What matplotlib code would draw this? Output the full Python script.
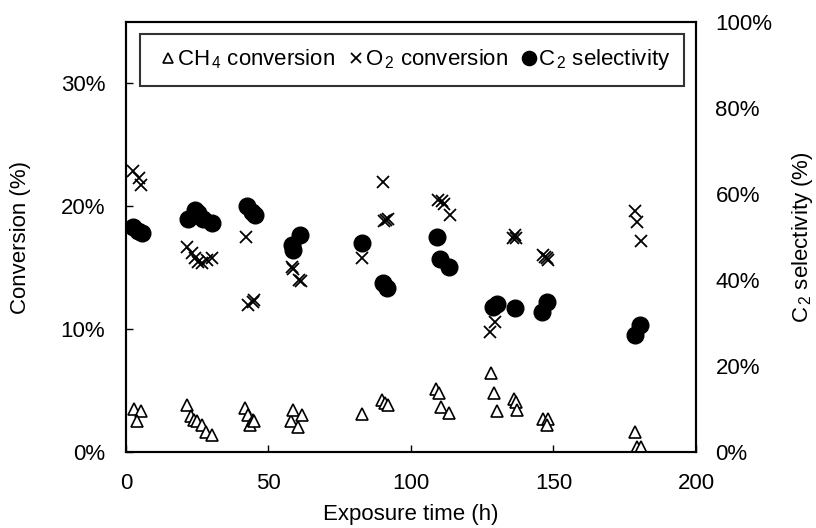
import matplotlib
matplotlib.use('Agg')
import matplotlib.pyplot as plt
from matplotlib.ticker import FuncFormatter

plt.rcParams['font.family'] = ['Liberation Sans', 'DejaVu Sans']
plt.rcParams['mathtext.fontset'] = 'custom'
plt.rcParams['mathtext.rm'] = 'Liberation Sans'
plt.rcParams['mathtext.it'] = 'Liberation Sans:italic'

# CH4 conversion (%)
ch4_t = [2.8, 5.1, 4.0,
         21.5, 22.7, 23.9, 25.0, 26.6, 27.9, 30.1,
         41.8, 42.9, 43.5, 44.5, 45.0,
         57.8, 58.7, 60.5, 61.6,
         82.7, 89.7, 90.9, 92.0,
         108.8, 109.9, 110.4, 113.4,
         128.1, 129.2, 130.1,
         136.3, 136.7, 137.3,
         146.4, 148.2, 147.6,
         178.6, 179.2, 180.6]
ch4_conv = [3.5, 3.3, 2.5,
            3.8, 2.9, 2.6, 2.5, 2.2, 1.65, 1.4,
            3.6, 3.0, 2.2, 2.6, 2.5,
            2.5, 3.4, 2.0, 3.0,
            3.1, 4.2, 4.0, 3.8,
            5.1, 4.8, 3.7, 3.2,
            6.4, 4.8, 3.3,
            4.3, 4.1, 3.4,
            2.7, 2.7, 2.2,
            1.65, 0.43, 0.43]

# O2 conversion (%)
o2_t = [2.6, 4.5, 5.3,
        21.3, 23.1, 24.2, 25.4, 26.6, 28.3, 30.1,
        42.1, 42.9, 44.5, 45.0,
        58.1, 58.7, 60.8, 61.3,
        82.7, 90.1, 90.7, 91.2, 91.8,
        109.6, 110.8, 111.5, 113.7,
        127.9, 129.5,
        135.9, 136.5, 137.0,
        146.4, 147.0, 147.6, 148.2,
        178.6, 179.2, 180.6]
o2_conv = [22.9, 22.3, 21.7,
           16.7, 16.2, 15.8, 15.5, 15.4, 15.6, 15.8,
           17.5, 12.0, 12.2, 12.4,
           15.1, 14.9, 14.0, 13.9,
           15.8, 22.0, 18.8, 18.9, 19.0,
           20.5, 20.4, 20.2, 19.3,
           9.8, 10.6,
           17.4, 17.7, 17.4,
           16.0, 15.9, 15.8, 15.6,
           19.6, 18.7, 17.2]

# C2 selectivity (fraction)
c2_t = [2.6, 4.3, 5.5,
        21.9, 24.2, 25.4, 27.1, 30.1,
        42.3, 44.1, 45.3,
        58.1, 58.7, 61.0,
        82.7, 90.3, 91.7,
        109.0, 110.2, 113.4,
        128.7, 130.3, 136.5,
        145.9, 147.6,
        178.6, 180.4]
c2_sel = [0.523, 0.514, 0.509,
          0.543, 0.563, 0.555, 0.543, 0.532,
          0.571, 0.559, 0.551,
          0.481, 0.470, 0.505,
          0.487, 0.392, 0.381,
          0.499, 0.448, 0.431,
          0.338, 0.344, 0.334,
          0.326, 0.350,
          0.272, 0.295]

fig = plt.figure(figsize=(8.16, 5.28), dpi=100)
ax = fig.add_axes([0.1544, 0.1439, 0.6985, 0.8144])
ax2 = ax.twinx()

l1, = ax.plot(ch4_t, ch4_conv, linestyle='none', marker='^', ms=9, mfc='white',
              mec='black', mew=1.2, label=r'CH$_{\,4}$ conversion')
l2, = ax.plot(o2_t, o2_conv, linestyle='none', marker='x', ms=9, color='black',
              mew=1.3, label=r'O$_{\,2}$ conversion')
l3, = ax2.plot(c2_t, c2_sel, linestyle='none', marker='o', ms=12, color='black',
               label=r'C$_{\,2}$ selectivity')
ax.set_zorder(ax2.get_zorder() + 1)
ax.patch.set_visible(False)

ax.set_xlim(0, 200)
ax.set_ylim(0, 35)
ax2.set_ylim(0, 1)
ax.set_xticks([0, 50, 100, 150, 200])
ax.set_yticks([0, 10, 20, 30])
ax2.set_yticks([0, 0.2, 0.4, 0.6, 0.8, 1.0])
ax.yaxis.set_major_formatter(FuncFormatter(lambda v, p: '%d%%' % v))
ax2.yaxis.set_major_formatter(FuncFormatter(lambda v, p: '%d%%' % round(v * 100)))

ax.tick_params(direction='in', length=5, width=1, labelsize=16)
ax.tick_params(axis='x', pad=15)
ax.tick_params(axis='y', pad=15)
ax2.tick_params(length=0, labelsize=16, pad=14)
for a in (ax, ax2):
    for s in a.spines.values():
        s.set_linewidth(1.5)

ax.set_xlabel('Exposure time (h)', fontsize=16, labelpad=7)
ax.set_ylabel('Conversion (%)', fontsize=16, labelpad=21)
ax2.set_ylabel(r'C$_{\,2}$ selectivity (%)', fontsize=16, labelpad=13)

leg = ax.legend(handles=[l1, l2, l3], loc='upper left', bbox_to_anchor=(0.025, 0.972),
                ncol=3, fontsize=16, markerscale=0.85, frameon=True, fancybox=False,
                edgecolor='black', handlelength=1.3, handletextpad=-0.25,
                columnspacing=0.3, borderpad=0.6, borderaxespad=0)
leg.get_frame().set_linewidth(1.5)

plt.savefig('out.png', dpi=100)
